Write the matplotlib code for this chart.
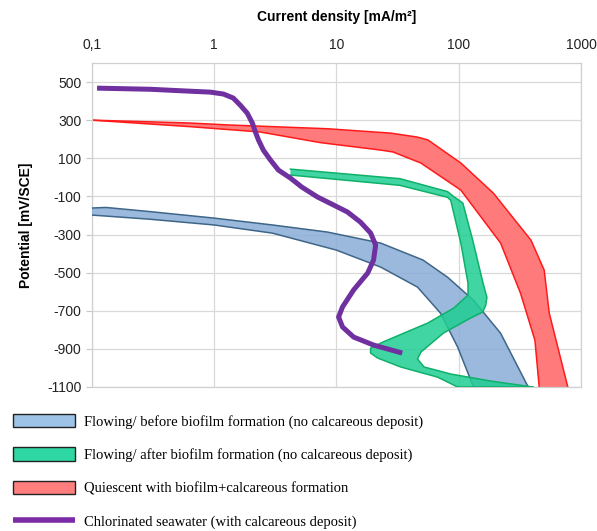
import numpy as np
import matplotlib.pyplot as plt
from matplotlib.patches import Patch
from matplotlib.lines import Line2D

# Polarisation envelopes, current density [mA/m²] vs potential [mV/SCE]
before_upper_i = [0.1, 0.13, 0.3, 1.0, 3.0, 8.4, 23, 51, 81, 132, 220, 370]
before_upper_E = [-161, -158, -180, -214, -250, -287, -345, -434, -524, -645, -818, -1100]
before_lower_i = [0.1, 0.3, 1.0, 3.0, 10, 23, 46, 71, 98, 132]
before_lower_E = [-198, -220, -250, -293, -382, -471, -576, -713, -891, -1100]

# green ribbon: edge a runs along the right side, edge b along the left side
after_a_i = [4.2, 33, 81, 91, 108, 130, 158, 170, 166, 157, 125, 75, 49, 46, 52, 86, 183, 404]
after_a_E = [43, -7, -75, -101, -135, -329, -555, -630, -672, -707, -738, -817, -917, -953,
             -995, -1032, -1069, -1100]
after_b_i = [4.2, 33, 81, 86, 104, 119, 119, 91, 56, 24, 19, 19, 21.7, 33.5, 67, 98, 404]
after_b_E = [12, -42, -105, -121, -345, -555, -618, -686, -764, -864, -896, -922, -948,
             -995, -1048, -1100, -1100]

quiet_upper_i = [0.1, 0.63, 1.28, 8.4, 27.7, 46, 56, 104, 192, 390, 500, 550, 780]
quiet_upper_E = [300, 285, 275, 255, 232, 211, 196, 75, -83, -330, -487, -713, -1100]
quiet_lower_i = [0.1, 0.63, 2.37, 7.4, 23, 29, 49, 104, 220, 320, 420, 455]
quiet_lower_E = [300, 266, 238, 182, 143, 133, 75, -67, -345, -608, -855, -1100]

chlor_i = [0.11, 0.3, 0.63, 0.93, 1.19, 1.43, 1.63, 1.86, 2.05, 2.17, 2.30, 2.52, 2.88,
           3.35, 4.2, 5.2, 6.98, 9.45, 12.3, 15.7, 19.0, 20.9, 20.1, 18.0, 13.8, 11.2,
           10.4, 11.2, 13.8, 20.1, 34.5]
chlor_E = [468, 462, 452, 447, 437, 416, 379, 337, 285, 238, 196, 143, 91,
           38, -4, -51, -103, -145, -182, -235, -292, -355, -434, -502, -591, -680,
           -733, -785, -838, -880, -922]

x_ticks = [0.1, 1, 10, 100, 1000]
x_labels = ['0,1', '1', '10', '100', '1000']
y_ticks = list(range(-1100, 501, 200))

labels = ['Flowing/ before biofilm formation (no calcareous deposit)',
          'Flowing/ after biofilm formation (no calcareous deposit)',
          'Quiescent with biofilm+calcareous formation',
          'Chlorinated seawater (with calcareous deposit)']

plt.rcParams['font.family'] = ['Liberation Sans', 'DejaVu Sans']
plt.rcParams['axes.unicode_minus'] = False

fig = plt.figure(figsize=(5.97, 5.31), dpi=100)
ax = fig.add_axes([0.1541, 0.2712, 0.8191, 0.6102])


def band(ax, xa, ya, xb, yb, face, edge, z, alpha=1.0):
    xs = np.concatenate([xa, xb[::-1]])
    ys = np.concatenate([ya, yb[::-1]])
    ax.fill(xs, ys, facecolor=face, edgecolor='none', alpha=alpha, zorder=z)
    ax.plot(xa, ya, color=edge, lw=1.1, zorder=z + 0.1, solid_joinstyle='round')
    ax.plot(xb, yb, color=edge, lw=1.1, zorder=z + 0.1, solid_joinstyle='round')


band(ax, np.array(quiet_upper_i), np.array(quiet_upper_E),
     np.array(quiet_lower_i), np.array(quiet_lower_E), '#ff7b7b', '#ff1a1a', 2)
band(ax, np.array(before_upper_i), np.array(before_upper_E),
     np.array(before_lower_i), np.array(before_lower_E), '#88add6', '#3f6688', 3, alpha=0.85)
band(ax, np.array(after_a_i), np.array(after_a_E),
     np.array(after_b_i), np.array(after_b_E), '#1fce93', '#0fb06a', 4, alpha=0.85)

ax.plot(chlor_i, chlor_E, color='#7030a0', lw=3.6, solid_capstyle='butt',
        solid_joinstyle='round', zorder=6)

ax.set_xscale('log')
ax.set_xlim(0.1, 1000)
ax.set_ylim(-1100, 600)
ax.xaxis.tick_top()
ax.xaxis.set_label_position('top')
ax.set_xticks(x_ticks)
ax.set_xticklabels(x_labels)
ax.minorticks_off()
ax.set_yticks(y_ticks)
ax.tick_params(axis='both', labelsize=10, color='#c8c8c8', length=4, width=0.8,
               labelcolor='#222222')
ax.tick_params(axis='x', length=0, pad=8)
ax.grid(True, color='#d9d9d9', lw=0.9)
ax.set_axisbelow(True)
for s in ax.spines.values():
    s.set_color('#d0d0d0')
    s.set_linewidth(0.9)

ax.set_xlabel('Current density [mA/m²]', fontsize=10, fontweight='bold', labelpad=12)
ax.set_ylabel('Potential [mV/SCE]', fontsize=10, fontweight='bold', labelpad=10)

handles = [Patch(facecolor='#9dc3e6', edgecolor='#222222', lw=1.0),
           Patch(facecolor='#2fd7a4', edgecolor='#222222', lw=1.0),
           Patch(facecolor='#ff7f7f', edgecolor='#222222', lw=1.0),
           Line2D([], [], color='#7b2aa8', lw=4, solid_capstyle='butt')]
fig.legend(handles, labels, loc='upper left', bbox_to_anchor=(0.022, 0.221),
           frameon=False, handlelength=4.25, handleheight=1.05, labelspacing=1.28,
           handletextpad=0.62, borderaxespad=0, borderpad=0,
           prop={'family': 'Liberation Serif', 'size': 10.5})

fig.savefig('out.png', dpi=100)
